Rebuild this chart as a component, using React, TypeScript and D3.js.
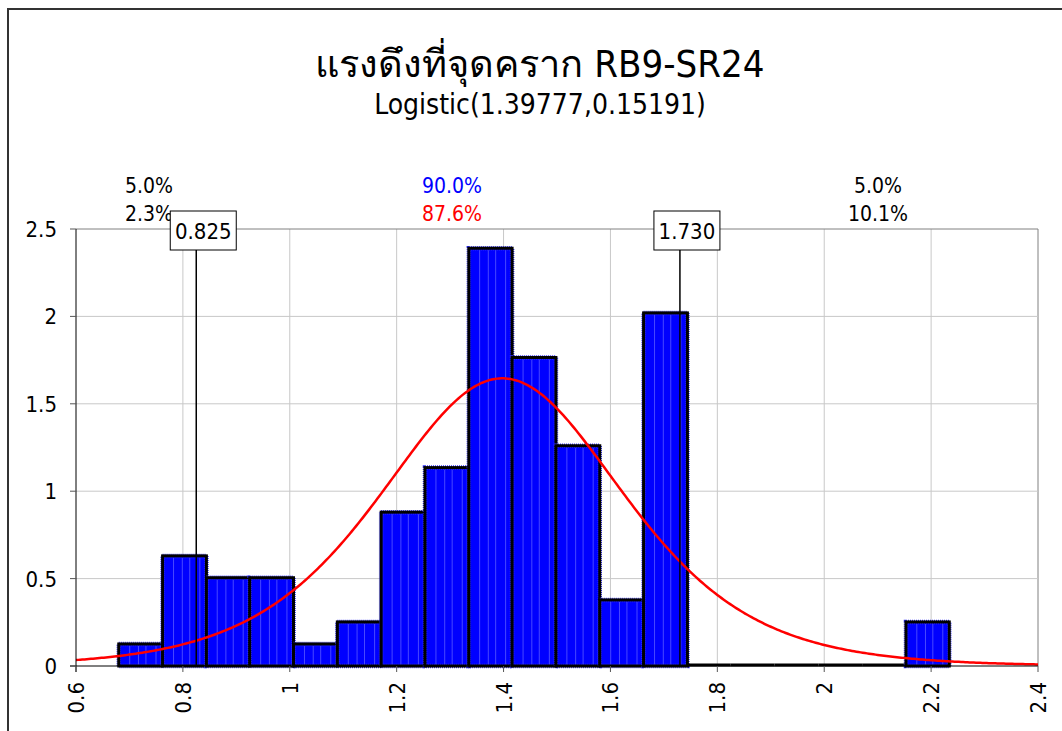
import React from "react";
import * as d3 from "d3";

const titleText = "แรงดึงที่จุดคราก RB9-SR24";
const subtitleText = "Logistic(1.39777,0.15191)";
const logisticMu = 1.39777;
const logisticScale = 0.15191;

const binEdges = [0.68, 0.762, 0.844, 0.925, 1.007, 1.089, 1.171, 1.253, 1.335, 1.416, 1.498, 1.58, 1.662, 1.744, 1.825, 1.907, 1.989, 2.071, 2.153, 2.234];
const densities = [0.126, 0.63, 0.505, 0.505, 0.126, 0.252, 0.88, 1.135, 2.39, 1.765, 1.26, 0.378, 2.02, 0, 0, 0, 0, 0, 0.252];

const xTicks = [0.6, 0.8, 1, 1.2, 1.4, 1.6, 1.8, 2, 2.2, 2.4];
const yTicks = [0, 0.5, 1, 1.5, 2, 2.5];
const markers = [0.825, 1.73];
const markerLabels = ["0.825", "1.730"];

const leftPct = ["5.0%", "2.3%"];
const midPct = ["90.0%", "87.6%"];
const rightPct = ["5.0%", "10.1%"];

const W = 1062, H = 731;
const FONT = "Tahoma, 'DejaVu Sans Condensed', 'DejaVu Sans', sans-serif";

export default function App() {
  const x = d3.scaleLinear().domain([0.6, 2.4]).range([76, 1038]);
  const y = d3.scaleLinear().domain([0, 2.5]).range([666, 229]);

  const pdf = (v: number) => {
    const z = (v - logisticMu) / logisticScale;
    const e = Math.exp(-z);
    return e / (logisticScale * (1 + e) * (1 + e));
  };
  const xs = d3.range(0.6, 2.4001, 0.004);
  const line = d3.line<number>().x((d) => x(d)).y((d) => y(pdf(d)));

  const bars = densities.map((d, i) => ({ x0: binEdges[i], x1: binEdges[i + 1], v: d }));

  return (
    <svg width={W} height={H} style={{ position: "absolute", left: 0, top: 0, background: "#fff" }} fontFamily={FONT}>
      <rect x={0} y={0} width={W} height={H} fill="#fff" />
      <rect x={8} y={9} width={W + 20} height={H + 20} fill="none" stroke="#333" strokeWidth={2} />
      {/* Title */}
      <text x={540} y={77} textAnchor="middle" fontSize={38} fill="#000">{titleText}</text>
      <text x={540} y={114} textAnchor="middle" fontSize={28} fill="#000">{subtitleText}</text>

      {/* gridlines */}
      {xTicks.slice(1).map((t) => (
        <line key={"gx" + t} x1={x(t)} x2={x(t)} y1={y(2.5)} y2={y(0)} stroke={t === 2.4 ? "#808080" : "#c8c8c8"} strokeWidth={1} />
      ))}
      {yTicks.slice(1).map((t) => (
        <line key={"gy" + t} x1={x(0.6)} x2={x(2.4)} y1={y(t)} y2={y(t)} stroke={t === 2.5 ? "#808080" : "#c8c8c8"} strokeWidth={1} />
      ))}

      {/* bars */}
      {bars.map((b, i) => {
        const bx = x(b.x0), bw = x(b.x1) - x(b.x0);
        const by = y(b.v), bh = y(0) - y(b.v);
        const inner = [0.25, 0.45, 0.62, 0.85].map((k) => bx + bw * k);
        if (b.v <= 0) {
          return <line key={"b" + i} x1={bx} x2={bx + bw} y1={y(0) - 1} y2={y(0) - 1} stroke="#000" strokeWidth={3} />;
        }
        return (
          <g key={"b" + i}>
            <rect x={bx} y={by} width={bw} height={bh} fill="#0000ff" stroke="#3030ff" strokeWidth={4.5} strokeDasharray="1 1" />
            {inner.map((ix, k) => (
              <line key={k} x1={ix} x2={ix} y1={by + 2} y2={y(0)} stroke="#4848ff" strokeWidth={1} />
            ))}
            <rect x={bx} y={by} width={bw} height={bh} fill="none" stroke="#000" strokeWidth={3} />
          </g>
        );
      })}

      {/* curve */}
      <path d={line(xs) || ""} fill="none" stroke="#ff0000" strokeWidth={2.5} />

      {/* axes */}
      <line x1={x(0.6)} x2={x(0.6)} y1={y(2.5)} y2={y(0) + 6} stroke="#000" strokeWidth={1} />
      <line x1={x(0.6) - 6} x2={x(2.4)} y1={y(0)} y2={y(0)} stroke="#000" strokeWidth={1} />
      {yTicks.map((t) => (
        <g key={"yt" + t}>
          <line x1={x(0.6) - 6} x2={x(0.6)} y1={y(t)} y2={y(t)} stroke="#555" />
          <text x={57} y={y(t) + 8} textAnchor="end" fontSize={22} fill="#000">{String(t)}</text>
        </g>
      ))}
      {xTicks.map((t) => (
        <g key={"xt" + t}>
          <line x1={x(t)} x2={x(t)} y1={y(0)} y2={y(0) + 6} stroke="#555" />
          <text transform={`translate(${x(t) + 8},${y(0) + 16}) rotate(-90)`} textAnchor="end" fontSize={22} fill="#000">{String(t)}</text>
        </g>
      ))}

      {/* percent annotations */}
      <text x={149} y={193} textAnchor="middle" fontSize={21} fill="#000">{leftPct[0]}</text>
      <text x={149} y={221} textAnchor="middle" fontSize={21} fill="#000">{leftPct[1]}</text>
      <text x={452} y={193} textAnchor="middle" fontSize={21} fill="#0000ff">{midPct[0]}</text>
      <text x={452} y={221} textAnchor="middle" fontSize={21} fill="#ff0000">{midPct[1]}</text>
      <text x={878} y={193} textAnchor="middle" fontSize={21} fill="#000">{rightPct[0]}</text>
      <text x={878} y={221} textAnchor="middle" fontSize={21} fill="#000">{rightPct[1]}</text>

      {/* markers */}
      {markers.map((m, i) => (
        <g key={"m" + i}>
          <line x1={x(m)} x2={x(m)} y1={250} y2={y(0)} stroke="#000" strokeWidth={1.5} />
          <rect x={x(m) - 26} y={211} width={66} height={39} fill="#fff" stroke="#000" strokeWidth={1} />
          <text x={x(m) + 7} y={238.5} textAnchor="middle" fontSize={22} fill="#000">{markerLabels[i]}</text>
        </g>
      ))}
    </svg>
  );
}
